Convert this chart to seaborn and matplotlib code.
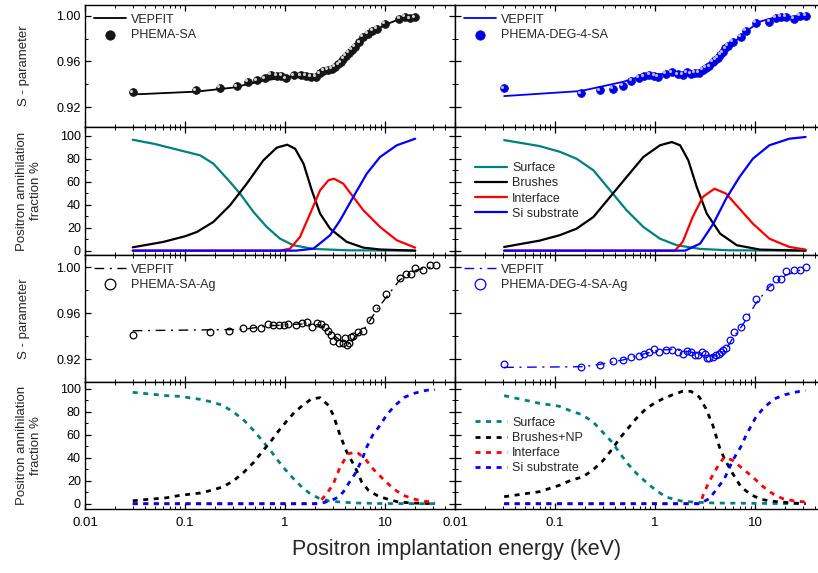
import numpy as np
import pandas as pd
import matplotlib
matplotlib.use("Agg")
import matplotlib.pyplot as plt
from matplotlib.ticker import FixedLocator, FixedFormatter, LogLocator, NullFormatter, MultipleLocator
from matplotlib.transforms import ScaledTranslation
import seaborn as sns

# ---------------- data ----------------
# Row 1 left: PHEMA-SA S-parameter
e_sa = [0.03, 0.129, 0.224, 0.329, 0.423, 0.525, 0.63, 0.724, 0.826, 0.92, 1.02, 1.23, 1.45, 1.62, 1.82,
        2.03, 2.24, 2.42, 2.67, 2.93, 3.16, 3.41, 3.63, 3.83, 4.07, 4.37, 4.64, 5.01, 5.54, 5.97, 6.7,
        7.47, 8.25, 10.0, 13.9, 15.8, 17.8, 20.0]
s_sa = [0.9328, 0.9346, 0.9369, 0.938, 0.9419, 0.9434, 0.9451, 0.948, 0.9474, 0.9474, 0.9451, 0.9477,
        0.9477, 0.9474, 0.9463, 0.9463, 0.9495, 0.9515, 0.9527, 0.9536, 0.9553, 0.9574, 0.9591, 0.962,
        0.9649, 0.9676, 0.970, 0.9728, 0.9766, 0.9816, 0.984, 0.9869, 0.9883, 0.993, 0.9971, 0.9991,
        0.9977, 0.9985]
e_sa_fit = [0.03, 0.13, 0.3, 0.6, 1.0, 1.6, 2.2, 3.0, 4.0, 5.0, 6.5, 8.0, 10.0, 13.0, 20.0]
s_sa_fit = [0.931, 0.9335, 0.937, 0.943, 0.946, 0.947, 0.948, 0.953, 0.962, 0.972, 0.982, 0.987, 0.992,
            0.996, 0.998]

# Row 1 right: PHEMA-DEG-4-SA
e_deg = [0.0311, 0.182, 0.282, 0.377, 0.475, 0.58, 0.687, 0.776, 0.877, 0.985, 1.07, 1.29, 1.48, 1.69,
         1.89, 2.07, 2.29, 2.51, 2.73, 3.0, 3.24, 3.49, 3.77, 4.01, 4.23, 4.5, 4.75, 5.05, 5.37, 6.03,
         7.19, 8.13, 10.1, 13.9, 16.2, 18.2, 20.4, 24.4, 28.2, 32.4]
s_deg = [0.9363, 0.932, 0.9346, 0.9358, 0.9384, 0.9431, 0.9457, 0.9468, 0.9483, 0.9471, 0.9465, 0.9492,
         0.9504, 0.9486, 0.9483, 0.9504, 0.9489, 0.9498, 0.9498, 0.9524, 0.9541, 0.9556, 0.9594, 0.9612,
         0.9632, 0.9655, 0.9679, 0.9714, 0.9734, 0.9772, 0.9813, 0.9866, 0.9939, 0.9947, 0.9982,
         0.9988, 0.9988, 0.997, 1.0, 0.9997]
e_deg_fit = [0.031, 0.18, 0.475, 0.8, 1.5, 2.75, 3.5, 4.75, 6.0, 8.1, 11.0, 15.0, 32.0]
s_deg_fit = [0.9296, 0.934, 0.942, 0.948, 0.9495, 0.950, 0.954, 0.9655, 0.9758, 0.986, 0.9947, 0.998, 1.0]

# Row 2 left: fractions PHEMA-SA
e_f1_surf = [0.03, 0.05, 0.089, 0.141, 0.192, 0.282, 0.355, 0.483, 0.656, 0.891, 1.21, 1.92, 4.14, 20.0]
f1_surf = [96.5, 92.8, 87.3, 83.0, 75.7, 59.7, 49.6, 33.7, 20.6, 10.4, 4.7, 1.5, 0.3, 0.0]
e_f1_brush = [0.03, 0.06, 0.1, 0.131, 0.192, 0.282, 0.414, 0.607, 0.826, 1.05, 1.26, 1.53, 1.85, 2.24,
              2.82, 4.14, 6.07, 8.9, 20.0]
f1_brush = [2.9, 7.5, 12.5, 16.2, 25.0, 39.5, 58.3, 78.6, 89.6, 92.2, 88.7, 75.7, 52.5, 32.2, 19.1, 7.6,
            2.6, 1.0, 0.0]
e_f1_int = [0.03, 0.891, 1.12, 1.41, 1.78, 2.24, 2.71, 3.09, 3.82, 4.81, 6.07, 8.91, 13.1, 20.0]
f1_int = [0.0, 0.0, 1.7, 11.9, 32.2, 52.5, 61.2, 62.6, 58.3, 46.7, 35.1, 20.6, 9.0, 2.6]
e_f1_si = [0.03, 1.29, 1.92, 2.82, 3.55, 4.81, 6.56, 8.91, 13.1, 20.0]
f1_si = [0.0, 0.0, 1.7, 13.4, 26.4, 46.7, 67.0, 81.5, 91.7, 97.4]

# Row 2 right: fractions PHEMA-DEG-4-SA
e_f2_surf = [0.031, 0.07, 0.112, 0.164, 0.242, 0.355, 0.52, 0.764, 1.12, 1.65, 2.82, 5.4, 32.0]
f2_surf = [96.2, 91.0, 86.0, 80.0, 69.9, 52.5, 35.1, 20.6, 10.4, 4.7, 1.5, 0.3, 0.0]
e_f2_brush = [0.031, 0.07, 0.112, 0.164, 0.242, 0.355, 0.52, 0.764, 1.12, 1.47, 1.78, 2.15, 2.61, 3.29,
              4.47, 6.56, 11.2, 32.0]
f2_brush = [3.2, 8.7, 13.5, 19.1, 29.3, 46.7, 64.1, 81.5, 91.7, 94.5, 91.7, 78.6, 55.4, 32.2, 14.8, 4.7,
            0.9, 0.0]
e_f2_int = [0.031, 1.58, 1.89, 2.38, 3.0, 3.92, 5.13, 6.99, 9.5, 13.9, 22.0, 32.0]
f2_int = [0.0, 0.0, 7.6, 29.3, 46.7, 53.9, 49.6, 36.5, 23.5, 10.4, 3.2, 0.9]
e_f2_si = [0.031, 2.0, 2.82, 3.83, 5.13, 6.99, 9.5, 13.9, 22.0, 32.0]
f2_si = [0.0, 0.0, 6.1, 23.5, 45.2, 64.1, 80.0, 91.7, 97.4, 98.9]

# Row 3 left: PHEMA-SA-Ag
e_ag = [0.0304, 0.178, 0.278, 0.377, 0.475, 0.575, 0.671, 0.765, 0.877, 0.985, 1.08, 1.28, 1.47, 1.67,
        1.88, 2.07, 2.29, 2.51, 2.71, 2.88, 3.04, 3.29, 3.49, 3.77, 4.01, 4.14, 4.33, 4.57, 4.82, 5.41,
        6.07, 7.08, 8.13, 10.1, 14.1, 16.2, 18.1, 20.1, 24.2, 28.2, 32.4]
s_ag = [0.9414, 0.944, 0.9449, 0.9475, 0.9475, 0.9472, 0.9507, 0.9501, 0.9501, 0.9501, 0.9507, 0.9495,
        0.9513, 0.9521, 0.9478, 0.9516, 0.9507, 0.9478, 0.9443, 0.9414, 0.9356, 0.939, 0.9344, 0.9338,
        0.9385, 0.9327, 0.9338, 0.939, 0.9402, 0.9439, 0.9449, 0.9541, 0.9643, 0.9768, 0.9904, 0.9942,
        0.9942, 0.9997, 0.998, 1.0017, 1.0017]
e_ag_fit = [0.03, 0.38, 0.66, 1.4, 2.2, 2.8, 3.5, 4.3, 5.0, 6.07, 7.1, 8.25, 10.4, 14.0, 20.7, 32.0]
s_ag_fit = [0.9449, 0.946, 0.949, 0.9507, 0.950, 0.944, 0.9368, 0.9333, 0.9397, 0.9455, 0.954, 0.963,
            0.9745, 0.989, 0.9977, 1.001]

# Row 3 right: PHEMA-DEG-4-SA-Ag
e_degag = [0.0311, 0.182, 0.284, 0.377, 0.475, 0.58, 0.687, 0.776, 0.877, 0.985, 1.09, 1.29, 1.48, 1.69,
           1.89, 2.07, 2.29, 2.51, 2.67, 2.93, 3.16, 3.31, 3.49, 3.77, 4.07, 4.33, 4.57, 4.82, 5.13,
           5.62, 6.21, 7.24, 8.13, 10.2, 14.2, 16.0, 18.2, 20.4, 24.4, 28.2, 32.4]
s_degag = [0.9156, 0.913, 0.915, 0.9185, 0.9191, 0.9223, 0.9226, 0.9246, 0.9266, 0.9292, 0.9263, 0.9284,
           0.9284, 0.926, 0.9246, 0.9275, 0.9263, 0.9234, 0.9234, 0.926, 0.9243, 0.9214, 0.9211, 0.922,
           0.9234, 0.9246, 0.9263, 0.9281, 0.9301, 0.9368, 0.9435, 0.9484, 0.9571, 0.9725, 0.9832,
           0.9899, 0.9899, 0.9971, 0.9977, 0.9977, 1.0]
e_degag_fit = [0.031, 0.19, 0.28, 0.475, 0.81, 1.1, 1.5, 2.2, 3.2, 4.07, 5.1, 5.95, 7.5, 10.2, 13.9, 20.4, 32.0]
s_degag_fit = [0.913, 0.9136, 0.9156, 0.9194, 0.9252, 0.928, 0.9287, 0.9266, 0.9237, 0.9229, 0.928,
               0.9382, 0.9498, 0.9687, 0.9832, 0.9933, 0.9991]

# Row 4 left: fractions PHEMA-SA-Ag
e_f3_surf = [0.03, 0.0655, 0.089, 0.141, 0.185, 0.237, 0.304, 0.389, 0.49, 0.607, 0.734, 0.871, 1.02,
             1.23, 1.47, 1.78, 2.15, 2.77, 3.55, 4.9, 8.9, 31.6]
f3_surf = [97.1, 94.2, 93.6, 91.0, 88.7, 85.8, 80.0, 72.7, 63.4, 53.8, 45.1, 36.4, 29.1, 21.3, 14.6, 8.7,
           5.0, 2.4, 1.5, 0.7, 0.2, 0.0]
e_f3_brush = [0.03, 0.0655, 0.089, 0.141, 0.185, 0.237, 0.304, 0.389, 0.49, 0.607, 0.734, 0.871, 1.02,
              1.23, 1.5, 1.85, 2.24, 2.71, 3.04, 3.55, 4.14, 5.01, 5.84, 6.81, 8.57, 10.8, 13.6, 19.0, 31.6]
f3_brush = [2.6, 5.2, 7.3, 9.3, 11.7, 14.6, 19.8, 27.6, 36.4, 46.6, 55.3, 64.0, 71.2, 79.3, 85.8, 91.5,
            92.4, 85.8, 77.1, 59.6, 45.1, 32.0, 18.9, 11.7, 6.5, 3.8, 1.5, 0.6, 0.0]
e_f3_int = [0.03, 2.0, 2.24, 2.61, 3.04, 3.55, 3.89, 4.3, 5.2, 6.31, 7.64, 9.6, 12.1, 15.2, 20.0, 25.0, 31.6]
f3_int = [0.0, 0.0, 2.1, 8.7, 17.4, 32.0, 37.8, 43.6, 45.1, 39.2, 30.0, 21.3, 13.1, 7.3, 3.8, 2.1, 1.5]
e_f3_si = [0.03, 2.2, 2.42, 2.93, 3.41, 3.82, 4.3, 5.01, 5.84, 6.56, 7.5, 8.91, 10.4, 12.6, 15.8, 20.0,
           26.0, 31.6]
f3_si = [0.0, 0.0, 0.9, 3.0, 5.8, 10.2, 17.4, 26.2, 37.8, 49.4, 59.6, 68.4, 77.6, 85.8, 93.0, 96.5, 98.9, 99.4]

# Row 4 right: fractions PHEMA-DEG-4-SA-Ag
e_f4_surf = [0.031, 0.07, 0.11, 0.139, 0.182, 0.237, 0.299, 0.376, 0.44, 0.533, 0.656, 0.81, 1.02, 1.29,
             1.82, 2.37, 4.0, 32.0]
f4_surf = [94.2, 87.5, 85.0, 81.4, 77.9, 71.8, 62.5, 53.2, 44.5, 34.9, 26.2, 18.9, 11.7, 5.8, 2.4, 1.5,
           0.6, 0.0]
e_f4_brush = [0.031, 0.07, 0.11, 0.144, 0.188, 0.237, 0.299, 0.376, 0.44, 0.533, 0.645, 0.8, 0.99, 1.2,
              1.5, 1.88, 2.28, 2.77, 3.23, 3.78, 4.4, 4.94, 5.98, 7.24, 9.12, 11.5, 15.0, 24.0, 32.0]
f4_brush = [6.1, 10.5, 16.0, 20.4, 23.3, 29.1, 37.2, 48.0, 56.7, 65.4, 74.1, 82.3, 87.8, 91.5, 95.0, 98.0,
            98.0, 93.0, 82.8, 68.4, 49.4, 39.2, 26.2, 14.6, 7.8, 3.8, 2.1, 0.6, 0.0]
e_f4_int = [0.031, 2.7, 2.87, 3.1, 3.49, 3.92, 4.4, 4.94, 5.98, 7.52, 9.47, 11.9, 15.0, 18.9, 24.7, 32.0]
f4_int = [0.0, 0.0, 1.5, 10.2, 19.5, 27.6, 34.9, 40.7, 37.8, 30.5, 23.3, 15.2, 8.7, 4.4, 2.4, 1.5]
e_f4_si = [0.031, 2.77, 3.49, 4.21, 4.94, 5.98, 7.24, 8.12, 10.2, 12.4, 15.7, 19.8, 25.9, 32.0]
f4_si = [0.0, 0.0, 4.4, 13.7, 21.8, 37.8, 50.0, 59.6, 75.6, 84.3, 91.5, 95.0, 97.4, 98.9]

x_ticks = [0.01, 0.1, 1, 10]
x_tick_labels = ["0.01", "0.1", "1", "10"]

# ---------------- style ----------------
sns.set_theme(style="ticks")
plt.rcParams['font.family'] = ['Liberation Sans', 'DejaVu Sans']
plt.rcParams['axes.linewidth'] = 1.0
plt.rcParams['xtick.direction'] = 'in'
plt.rcParams['ytick.direction'] = 'in'

TEAL = '#008080'
fig = plt.figure(figsize=(8.18, 5.73), dpi=100)

W, H = 818.0, 573.0
col_x = [85, 455]
col_w = 370
rows = [(5, 127), (127, 255), (255, 382), (382, 509)]
ylims = [(0.9025, 1.0094), (-3.8, 107.6), (0.9003, 1.0107), (-4.6, 106.1)]

axes = {}
for r, (yt, yb) in enumerate(rows):
    for c in range(2):
        ax = fig.add_axes([col_x[c] / W, 1 - yb / H, col_w / W, (yb - yt) / H])
        ax.set_xscale('log')
        ax.set_xlim(0.01, 50)
        ax.set_ylim(*ylims[r])
        axes[(r, c)] = ax


def frac_lines(ax, data, ls):
    cols = [TEAL, 'black', 'red', 'blue']
    for (ex, fx, lab), col in zip(data, cols):
        df = pd.DataFrame({'E': ex, 'F': fx})
        sns.lineplot(data=df, x='E', y='F', ax=ax, color=col, lw=1.6 if ls == '-' else 2.0,
                     linestyle=ls, label=lab, sort=False, estimator=None)


def balls(ax, ex, sy, face, hi, lab):
    sns.scatterplot(data=pd.DataFrame({'E': ex, 'S': sy}), x='E', y='S', ax=ax, color=face,
                    edgecolor=face, linewidth=0.5, s=32, label=lab, zorder=3)
    off = ax.transData + ScaledTranslation(-1.3 / 72, 1.3 / 72, fig.dpi_scale_trans)
    ax.scatter(ex, sy, s=5, color=hi, linewidth=0, zorder=4, transform=off)


# Row 1
ax = axes[(0, 0)]
sns.lineplot(data=pd.DataFrame({'E': e_sa_fit, 'S': s_sa_fit}), x='E', y='S', ax=ax, color='black',
             lw=1.3, label='VEPFIT', sort=False, estimator=None)
balls(ax, e_sa, s_sa, '#151515', '#d0d0d0', 'PHEMA-SA')
ax = axes[(0, 1)]
sns.lineplot(data=pd.DataFrame({'E': e_deg_fit, 'S': s_deg_fit}), x='E', y='S', ax=ax, color='blue',
             lw=1.3, label='VEPFIT', sort=False, estimator=None)
balls(ax, e_deg, s_deg, '#0000e8', '#b8b8ff', 'PHEMA-DEG-4-SA')

# Row 2
frac_lines(axes[(1, 0)], [(e_f1_surf, f1_surf, 'Surface'), (e_f1_brush, f1_brush, 'Brushes'),
                          (e_f1_int, f1_int, 'Interface'), (e_f1_si, f1_si, 'Si substrate')], '-')
frac_lines(axes[(1, 1)], [(e_f2_surf, f2_surf, 'Surface'), (e_f2_brush, f2_brush, 'Brushes'),
                          (e_f2_int, f2_int, 'Interface'), (e_f2_si, f2_si, 'Si substrate')], '-')

# Row 3
dashdot = (0, (7, 4, 1.5, 4))
ax = axes[(2, 0)]
sns.lineplot(data=pd.DataFrame({'E': e_ag_fit, 'S': s_ag_fit}), x='E', y='S', ax=ax, color='black',
             lw=1.0, linestyle=dashdot, label='VEPFIT', sort=False, estimator=None)
ax.plot(e_ag, s_ag, 'o', mfc='none', mec='black', ms=4.8, mew=0.9, label='PHEMA-SA-Ag', zorder=3)
ax = axes[(2, 1)]
sns.lineplot(data=pd.DataFrame({'E': e_degag_fit, 'S': s_degag_fit}), x='E', y='S', ax=ax, color='blue',
             lw=1.0, linestyle=dashdot, label='VEPFIT', sort=False, estimator=None)
ax.plot(e_degag, s_degag, 'o', mfc='none', mec='blue', ms=4.8, mew=0.9, label='PHEMA-DEG-4-SA-Ag', zorder=3)

# Row 4
dashed = (0, (1.8, 2.0))
frac_lines(axes[(3, 0)], [(e_f3_surf, f3_surf, 'Surface'), (e_f3_brush, f3_brush, 'Brushes+NP'),
                          (e_f3_int, f3_int, 'Interface'), (e_f3_si, f3_si, 'Si substrate')], dashed)
frac_lines(axes[(3, 1)], [(e_f4_surf, f4_surf, 'Surface'), (e_f4_brush, f4_brush, 'Brushes+NP'),
                          (e_f4_int, f4_int, 'Interface'), (e_f4_si, f4_si, 'Si substrate')], dashed)

# Axes formatting
for (r, c), ax in axes.items():
    ax.set_xlabel('')
    ax.set_ylabel('')
    ax.xaxis.set_major_locator(FixedLocator(x_ticks))
    ax.xaxis.set_major_formatter(FixedFormatter(x_tick_labels))
    ax.xaxis.set_minor_locator(LogLocator(base=10, subs=np.arange(2, 10)))
    ax.xaxis.set_minor_formatter(NullFormatter())
    if r in (0, 2):
        ax.yaxis.set_major_locator(FixedLocator([0.92, 0.96, 1.00]))
        ax.yaxis.set_major_formatter(FixedFormatter(["0.92", "0.96", "1.00"]))
        ax.yaxis.set_minor_locator(MultipleLocator(0.02))
    else:
        ax.yaxis.set_major_locator(FixedLocator([0, 20, 40, 60, 80, 100]))
        ax.yaxis.set_major_formatter(FixedFormatter(["0", "20", "40", "60", "80", "100"]))
        ax.yaxis.set_minor_locator(MultipleLocator(10))
    ax.tick_params(which='both', top=True, right=True, direction='in', colors='black')
    ax.tick_params(axis='y', labelsize=9)
    ax.tick_params(axis='x', labelsize=9.5)
    ax.tick_params(which='major', length=4, width=0.9)
    ax.tick_params(which='minor', length=2, width=0.7)
    ax.tick_params(axis='x', labelbottom=(r == 3), pad=6)
    ax.tick_params(axis='y', labelleft=(c == 0), pad=3)
    for sp in ax.spines.values():
        sp.set_visible(True)
        sp.set_color('black')
        sp.set_linewidth(1.0)
    leg = ax.get_legend()
    if leg is not None:
        leg.remove()

# Legends
legkw = dict(frameon=False, fontsize=9, handlelength=2.6, handletextpad=0.4, borderaxespad=0.3, labelspacing=0.25)
for key in [(0, 0), (0, 1)]:
    axes[key].legend(loc='upper left', markerscale=1.2, **legkw)
for key in [(2, 0), (2, 1)]:
    axes[key].legend(loc='upper left', markerscale=1.6, **legkw)
for key in [(1, 1), (3, 1)]:
    axes[key].legend(loc='center left', bbox_to_anchor=(0.03, 0.5), **legkw)

# Y labels
for r in range(4):
    ax = axes[(r, 0)]
    if r in (0, 2):
        ax.set_ylabel('S - parameter', fontsize=9.5)
        ax.yaxis.set_label_coords(-0.15, 0.5)
    else:
        ax.set_ylabel('Positron annihilation\nfraction %', fontsize=9.5, linespacing=1.25)
        ax.yaxis.set_label_coords(-0.115, 0.5)

fig.text(457 / W, 1 - 550 / H, 'Positron implantation energy (keV)', ha='center', va='center', fontsize=15.5)

fig.savefig('out.png', dpi=100)
